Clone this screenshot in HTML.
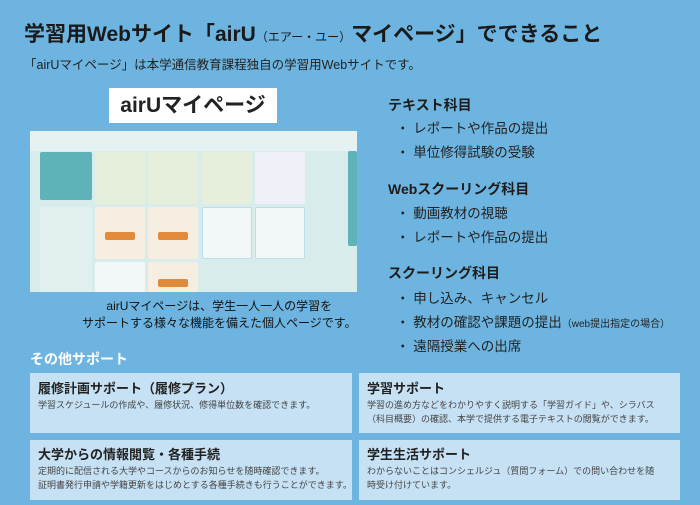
<!DOCTYPE html>
<html><head><meta charset="utf-8"><style>
*{margin:0;padding:0;box-sizing:border-box}
body{width:700px;height:505px;background:#6db5e0;font-family:"Liberation Sans","Noto Sans CJK JP",sans-serif;color:#222;position:relative;overflow:hidden}
.a{position:absolute;white-space:nowrap}
.h{font-weight:bold;font-size:14px;color:#1c1c1c}
.b{font-size:13.5px;color:#222}
.box{position:absolute;background:#c6e1f4;padding:4px 8px}
.box .t{font-weight:bold;font-size:13px;margin-top:0}
.box .d{font-size:9px;color:#444;line-height:14px;margin-top:1px;white-space:nowrap}
.sc{position:absolute;left:30px;top:131px;width:327px;height:161px;background:#d8ecec;overflow:hidden}
.c{position:absolute;border-radius:2px}
</style></head><body>
<div class="a" style="left:24px;top:18px;font-size:21px;font-weight:bold;color:#1a1a1a">学習用Webサイト「airU<span style="font-size:12px;font-weight:normal">（エアー・ユー）</span>マイページ」でできること</div>
<div class="a" style="left:24px;top:54px;font-size:12.5px;color:#222">「airUマイページ」は本学通信教育課程独自の学習用Webサイトです。</div>
<div class="a" style="left:109px;top:88px;width:168px;height:35px;background:#fff;font-size:21px;font-weight:bold;text-align:center;line-height:35px;color:#222">airUマイページ</div>
<div class="sc">
<div class="c" style="left:0;top:0;width:327px;height:20px;background:#e6f2f2"></div>
<div class="c" style="left:10px;top:21px;width:52px;height:48px;background:#5db3b8"></div>
<div class="c" style="left:65px;top:21px;width:50px;height:52px;background:#e6eedc"></div>
<div class="c" style="left:118px;top:21px;width:50px;height:52px;background:#e6eedc"></div>
<div class="c" style="left:172px;top:21px;width:50px;height:52px;background:#e6eedc"></div>
<div class="c" style="left:225px;top:21px;width:50px;height:52px;background:#eef2f8"></div>
<div class="c" style="left:65px;top:76px;width:50px;height:52px;background:#f6eee0"></div>
<div class="c" style="left:118px;top:76px;width:50px;height:52px;background:#f6eee0"></div>
<div class="c" style="left:172px;top:76px;width:50px;height:52px;background:#f2f8f8;border:1px solid #bde"></div>
<div class="c" style="left:225px;top:76px;width:50px;height:52px;background:#f2f8f8;border:1px solid #bde"></div>
<div class="c" style="left:75px;top:101px;width:30px;height:8px;background:#e08a3a"></div>
<div class="c" style="left:128px;top:101px;width:30px;height:8px;background:#e08a3a"></div>
<div class="c" style="left:65px;top:131px;width:50px;height:30px;background:#f2f8f8"></div>
<div class="c" style="left:118px;top:131px;width:50px;height:30px;background:#f6eee0"></div>
<div class="c" style="left:128px;top:148px;width:30px;height:8px;background:#e08a3a"></div>
<div class="c" style="left:10px;top:76px;width:52px;height:85px;background:#e2efef"></div>
<div class="c" style="left:318px;top:20px;width:9px;height:95px;background:#5db3b8"></div>
</div>
<div class="a" style="left:82px;top:298px;font-size:12px;text-align:center;line-height:17px;color:#111">airUマイページは、学生一人一人の学習を<br>サポートする様々な機能を備えた個人ページです。</div>
<div class="a h" style="left:388px;top:95px">テキスト科目</div>
<div class="a b" style="left:396px;top:117px">・ レポートや作品の提出</div>
<div class="a b" style="left:396px;top:141px">・ 単位修得試験の受験</div>
<div class="a h" style="left:388px;top:179px">Webスクーリング科目</div>
<div class="a b" style="left:396px;top:202px">・ 動画教材の視聴</div>
<div class="a b" style="left:396px;top:226px">・ レポートや作品の提出</div>
<div class="a h" style="left:388px;top:263px">スクーリング科目</div>
<div class="a b" style="left:396px;top:287px">・ 申し込み、キャンセル</div>
<div class="a b" style="left:396px;top:311px">・ 教材の確認や課題の提出<span style="font-size:10px">（web提出指定の場合）</span></div>
<div class="a b" style="left:396px;top:335px">・ 遠隔授業への出席</div>
<div class="a" style="left:30px;top:349px;font-size:14px;font-weight:bold;color:#fff">その他サポート</div>
<div class="box" style="left:30px;top:373px;width:322px;height:60px;padding-top:5px"><div class="t">履修計画サポート（履修プラン）</div><div class="d">学習スケジュールの作成や、履修状況、修得単位数を確認できます。</div></div>
<div class="box" style="left:359px;top:373px;width:321px;height:60px;padding-top:5px"><div class="t">学習サポート</div><div class="d">学習の進め方などをわかりやすく説明する「学習ガイド」や、シラバス<br>（科目概要）の確認、本学で提供する電子テキストの閲覧ができます。</div></div>
<div class="box" style="left:30px;top:440px;width:322px;height:60px"><div class="t">大学からの情報閲覧・各種手続</div><div class="d">定期的に配信される大学やコースからのお知らせを随時確認できます。<br>証明書発行申請や学籍更新をはじめとする各種手続きも行うことができます。</div></div>
<div class="box" style="left:359px;top:440px;width:321px;height:60px"><div class="t">学生生活サポート</div><div class="d">わからないことはコンシェルジュ（質問フォーム）での問い合わせを随<br>時受け付けています。</div></div>
</body></html>
